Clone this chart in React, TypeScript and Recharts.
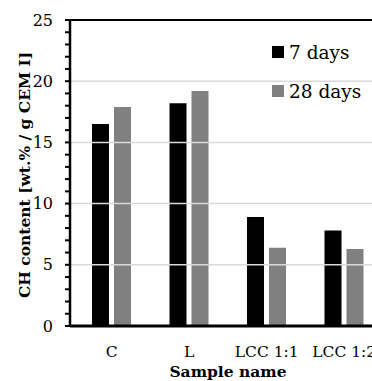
import React from 'react';
import { Bar, BarChart, ReferenceLine, XAxis, YAxis } from 'recharts';

const samples = ['C', 'L', 'LCC 1:1', 'LCC 1:2'];
const days7 = [16.5, 18.2, 8.9, 7.8];
const days28 = [17.9, 19.2, 6.4, 6.3];
const yTicks = [0, 1, 2, 3, 4, 5, 6, 7, 8, 9, 10, 11, 12, 13, 14, 15, 16, 17, 18, 19, 20, 21, 22, 23, 24, 25];
const gridValues = [5, 10, 15, 20];

const SERIES = [
  { key: 'd7', name: '7 days', color: '#000000' },
  { key: 'd28', name: '28 days', color: '#808080' },
];

const data = samples.map((name, i) => ({ name, d7: days7[i], d28: days28[i] }));

const FONT = 'DejaVu Serif';

function YTick({ x, y, payload }: any) {
  if (payload.value % 5 !== 0) return null;
  return (
    <text x={x} y={y} textAnchor="end" dominantBaseline="central" fontFamily={FONT} fontSize={16} fill="#000">
      {payload.value}
    </text>
  );
}

function XTick({ x, payload }: any) {
  return (
    <text x={x} y={352} textAnchor="middle" dominantBaseline="central" fontFamily={FONT} fontSize={15.5} fill="#000">
      {payload.value}
    </text>
  );
}

export default function App() {
  return (
    <div
      style={{
        position: 'fixed',
        left: 0,
        top: 0,
        width: 372,
        height: 381,
        overflow: 'hidden',
        background: '#fff',
      }}
    >
      <BarChart
        width={383}
        height={381}
        data={data}
        margin={{ top: 20, right: 0, left: 0, bottom: 0 }}
        barSize={17}
        barGap={5}
      >
        {gridValues.map((v) => (
          <ReferenceLine key={v} y={v} stroke="#d9d9d9" strokeWidth={1.5} />
        ))}
        <ReferenceLine y={25} stroke="#000" strokeWidth={2} />
        {SERIES.map((s) => (
          <Bar
            key={s.key}
            dataKey={s.key}
            name={s.name}
            fill={s.color}
            isAnimationActive={false}
          />
        ))}
        <XAxis
          dataKey="name"
          height={55}
          padding={{ left: 3, right: 0 }}
          axisLine={{ stroke: '#000', strokeWidth: 3 }}
          tickLine={false}
          tick={<XTick />}
          interval={0}
        />
        <YAxis
          width={70}
          domain={[0, 25]}
          ticks={yTicks}
          interval={0}
          axisLine={{ stroke: '#000', strokeWidth: 2.5 }}
          tickLine={{ stroke: '#000', strokeWidth: 2 }}
          tickSize={5}
          tickMargin={12}
          tick={<YTick />}
        />
      </BarChart>
      <svg
        width={372}
        height={381}
        style={{ position: 'absolute', left: 0, top: 0, pointerEvents: 'none' }}
      >
        <text
          x={24}
          y={175}
          transform="rotate(-90 24 175)"
          textAnchor="middle"
          dominantBaseline="central"
          fontFamily={FONT}
          fontWeight="bold"
          fontSize={15.5}
        >
          CH content [wt.% / g CEM I]
        </text>
        <text
          x={228}
          y={371}
          textAnchor="middle"
          dominantBaseline="central"
          fontFamily={FONT}
          fontWeight="bold"
          fontSize={15.5}
        >
          Sample name
        </text>
        {SERIES.map((s, i) => (
          <g key={s.key}>
            <rect x={272} y={46 + i * 39} width={12} height={12} fill={s.color} />
            <text
              x={289}
              y={52 + i * 39}
              dominantBaseline="central"
              fontFamily={FONT}
              fontSize={18.5}
            >
              {s.name}
            </text>
          </g>
        ))}
      </svg>
    </div>
  );
}
